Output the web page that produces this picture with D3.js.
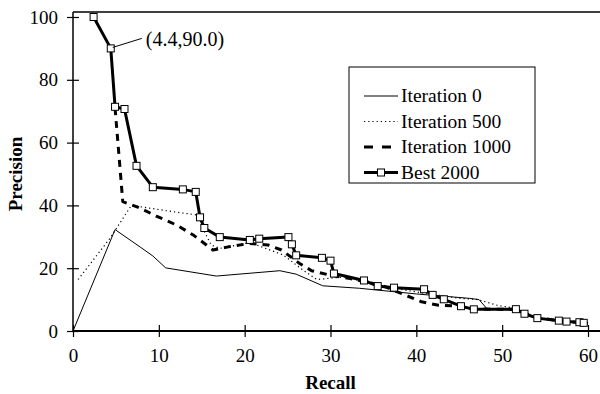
<!DOCTYPE html>
<html>
<head>
<meta charset="utf-8">
<script src="https://cdn.jsdelivr.net/npm/d3@7"></script>
<style>
  body { margin: 0; background: #fff; }
  text { font-family: "Liberation Serif", "Times New Roman", serif; fill: #000; }
</style>
</head>
<body>
<svg id="chart" width="600" height="394"></svg>
<script>
// values, [recall, precision]
const iter0 = [[0, 0], [4.9, 32.3], [7.8, 26.8], [9.3, 23.9], [10.8, 20.1], [16.7, 17.5], [24.1, 19.2],
  [26.0, 18.1], [29.1, 14.4], [33.4, 13.6], [40, 11.8], [46.2, 10.4], [47.3, 10.0], [48.2, 7.2],
  [52, 6.5], [54, 4.2], [57, 3.2], [60, 2.4]];
const iter500 = [[0.6, 16.4], [4.3, 29.5], [6.8, 40.0], [12.4, 37.7], [14.6, 36.9], [15.2, 32.2],
  [16.1, 27.4], [17.1, 26.3], [20.6, 28.2], [24.5, 24.2], [26.8, 19.4], [28.4, 16.4], [31.9, 17.3],
  [34, 15.5], [37, 13.8], [41, 12], [45.1, 10.4], [47.2, 10.0], [49.4, 8.2], [51.6, 7.2], [54, 4.2],
  [57, 3.2], [60, 2.4]];
const iter1000 = [[4.9, 71], [5.8, 41.2], [7.6, 39.4], [9.7, 36.6], [12.1, 33.7], [14, 30.6],
  [16.3, 25.8], [18.1, 26.8], [20.6, 27.9], [22.7, 27.4], [24.3, 25.8], [26.4, 21.5], [27.8, 19.2],
  [29.9, 17.8], [32.3, 16.7], [36, 14.5], [40.6, 9.3], [42.6, 8.2], [45, 7.9], [47, 7], [51.6, 6.9],
  [54, 4.2], [57, 3.2], [60, 2.4]];
const best2000 = [[2.4, 100], [4.4, 90.0], [4.9, 71.4], [6.0, 70.7], [7.4, 52.6], [9.3, 45.8],
  [12.8, 45.1], [14.3, 44.3], [14.8, 36.2], [15.3, 32.8], [17.1, 29.9], [20.6, 29.0], [21.7, 29.4],
  [25.1, 29.9], [25.5, 27.6], [26.0, 24.1], [29.0, 23.3], [30.0, 22.4], [30.4, 18.3], [33.9, 16.1],
  [35.5, 14.3], [37.4, 13.8], [40.9, 13.3], [41.9, 11.5], [43.2, 10.1], [45.2, 7.9], [46.7, 6.9],
  [51.6, 6.95], [52.6, 5.5], [54.1, 4.1], [56.6, 3.3], [57.5, 3.0], [59.0, 2.8], [59.5, 2.6]];
const seriesNames = ['Iteration 0', 'Iteration 500', 'Iteration 1000', 'Best 2000'];
const xTicks = [0, 10, 20, 30, 40, 50, 60];
const yTicks = [0, 20, 40, 60, 80, 100];
const callout = [4.4, 90.0];

const svg = d3.select('#chart');
const margin = { left: 73, top: 17, right: 12, bottom: 63 };
const width = 588 - margin.left;
const height = 331 - margin.top;

const x = d3.scaleLinear().domain([0, 60]).range([margin.left, margin.left + width]);
const y = d3.scaleLinear().domain([0, 100]).range([margin.top + height, margin.top]);

// frame top line
svg.append('line')
  .attr('x1', x(0)).attr('x2', 600)
  .attr('y1', 12).attr('y2', 12)
  .style('stroke', '#000').style('stroke-width', 1.5);

const styles = [
  { width: 1, dash: null },
  { width: 1.2, dash: '1.2,3' },
  { width: 3, dash: '7,6' },
  { width: 3, dash: null }
];
const allSeries = [iter0, iter500, iter1000, best2000];

const line = d3.line()
  .x(d => x(d[0]))
  .y(d => y(d[1]));

allSeries.forEach((s, i) => {
  svg.append('path')
    .datum(s)
    .attr('d', line)
    .style('fill', 'none')
    .style('stroke', '#000')
    .style('stroke-width', styles[i].width)
    .style('stroke-dasharray', styles[i].dash)
    .style('stroke-linejoin', 'round');
});

// squares on the best line
svg.append('g')
  .selectAll('rect')
  .data(best2000)
  .enter()
  .append('rect')
  .attr('x', d => x(d[0]) - 3.5)
  .attr('y', d => y(d[1]) - 3.5)
  .attr('width', 7)
  .attr('height', 7)
  .style('fill', '#fff')
  .style('stroke', '#000')
  .style('stroke-width', 1);

// axes
const xAxis = svg.append('g')
  .attr('transform', 'translate(0,' + y(0) + ')')
  .call(d3.axisBottom(x).tickValues(xTicks).tickSize(6).tickSizeOuter(0));
xAxis.selectAll('.tick line').attr('y1', -6).attr('y2', 6).style('stroke-width', 1.2);
xAxis.select('.domain').attr('d', 'M' + x(0) + ',0H600').style('stroke-width', 2);
xAxis.selectAll('text')
  .attr('y', 18)
  .style('font-size', '19px')
  .style('font-family', '"Liberation Serif", serif');

const yAxis = svg.append('g')
  .attr('transform', 'translate(' + x(0) + ',0)')
  .call(d3.axisLeft(y).tickValues(yTicks).tickSize(6).tickSizeOuter(0));
yAxis.selectAll('.tick line').attr('x1', -6).attr('x2', 6).style('stroke-width', 1.2);
yAxis.select('.domain').attr('d', 'M0,12V' + y(0)).style('stroke-width', 1.5);
yAxis.selectAll('text')
  .attr('x', -15)
  .style('font-size', '19px')
  .style('font-family', '"Liberation Serif", serif');

svg.append('text')
  .attr('x', x(30))
  .attr('y', 389)
  .attr('text-anchor', 'middle')
  .style('font-size', '19px')
  .style('font-weight', 'bold')
  .text('Recall');

svg.append('text')
  .attr('transform', 'translate(22,' + y(50) + ') rotate(-90)')
  .attr('text-anchor', 'middle')
  .style('font-size', '19px')
  .style('font-weight', 'bold')
  .text('Precision');

// callout
svg.append('line')
  .attr('x1', x(callout[0]) + 2).attr('y1', y(callout[1]) - 1)
  .attr('x2', x(callout[0]) + 31).attr('y2', y(callout[1]) - 10)
  .style('stroke', '#000').style('stroke-width', 1);
svg.append('text')
  .attr('x', x(callout[0]) + 35)
  .attr('y', y(callout[1]) - 2)
  .style('font-size', '20px')
  .text('(' + callout[0].toFixed(1) + ',' + callout[1].toFixed(1) + ')');

// legend
const legend = svg.append('g').attr('transform', 'translate(349,67)');
legend.append('rect')
  .attr('width', 186).attr('height', 116)
  .style('fill', '#fff').style('stroke', '#000').style('stroke-width', 1);
seriesNames.forEach((name, i) => {
  const ly = 29 + i * 25.5;
  legend.append('line')
    .attr('x1', 15).attr('x2', 49)
    .attr('y1', ly).attr('y2', ly)
    .style('stroke', '#000')
    .style('stroke-width', styles[i].width)
    .style('stroke-dasharray', i === 2 ? '9,9' : styles[i].dash);
  if (i === 3) {
    legend.append('rect')
      .attr('x', 28.5).attr('y', ly - 3.5)
      .attr('width', 7).attr('height', 7)
      .style('fill', '#fff').style('stroke', '#000');
  }
  legend.append('text')
    .attr('x', 52).attr('y', ly + 6)
    .style('font-size', '19.5px')
    .text(name);
});
</script>
</body>
</html>
